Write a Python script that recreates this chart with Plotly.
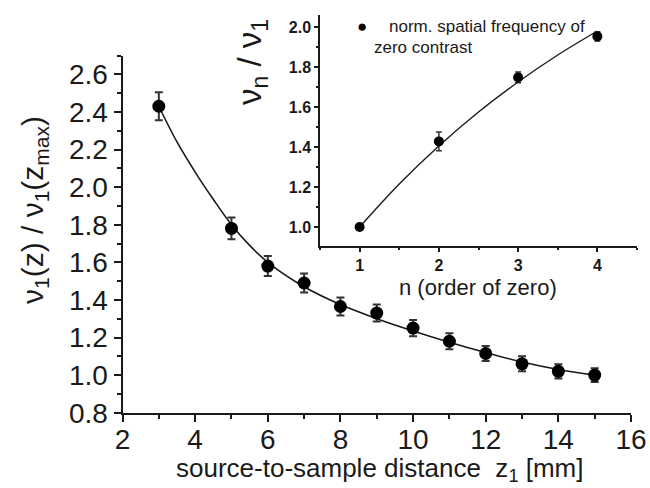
import plotly.graph_objects as go

# Main plot data
z_vals = [3, 5, 6, 7, 8, 9, 10, 11, 12, 13, 14, 15]
ratio_vals = [2.43, 1.78, 1.58, 1.49, 1.365, 1.33, 1.25, 1.18, 1.115, 1.06, 1.02, 1.00]
ratio_err = [0.075, 0.058, 0.053, 0.05, 0.048, 0.045, 0.043, 0.042, 0.04, 0.04, 0.038, 0.037]

# fitted curve
fit_z = [3, 3.5, 4, 4.5, 5, 5.5, 6, 7, 8, 9, 10, 11, 12, 13, 14, 15]
fit_y = [2.43, 2.24, 2.08, 1.935, 1.80, 1.69, 1.60, 1.47, 1.375, 1.30, 1.235, 1.175, 1.12, 1.07, 1.03, 1.00]

# Inset data
n_vals = [1, 2, 3, 4]
nu_vals = [1.0, 1.428, 1.748, 1.953]
nu_err = [0.012, 0.047, 0.027, 0.023]
fit_n = [1, 1.5, 2, 2.5, 3, 3.5, 4]
fit_nu = [1.0, 1.215, 1.405, 1.575, 1.725, 1.86, 1.98]

FONT = "Liberation Sans, Arial, sans-serif"
INK = "#1a1a1a"
W, H = 650, 488

fig = go.Figure()

fig.add_trace(go.Scatter(x=fit_z, y=fit_y, mode="lines", line=dict(color=INK, width=1.6, shape="spline"),
                         showlegend=False, xaxis="x", yaxis="y"))
fig.add_trace(go.Scatter(x=z_vals, y=ratio_vals, mode="markers",
                         marker=dict(color="black", size=13),
                         error_y=dict(type="data", array=ratio_err, color="#333", thickness=2, width=4),
                         showlegend=False, xaxis="x", yaxis="y"))

fig.add_trace(go.Scatter(x=fit_n, y=fit_nu, mode="lines", line=dict(color=INK, width=1.4, shape="spline"),
                         showlegend=False, xaxis="x2", yaxis="y2"))
fig.add_trace(go.Scatter(x=n_vals, y=nu_vals, mode="markers",
                         marker=dict(color="black", size=10),
                         error_y=dict(type="data", array=nu_err, color="#333", thickness=1.5, width=3),
                         showlegend=False, xaxis="x2", yaxis="y2"))

def px_x(p):
    return p / W

def px_y(p):
    return 1 - p / H

axis_common = dict(showline=True, linewidth=2, linecolor=INK, showgrid=False, zeroline=False,
                   ticks="outside", tickcolor=INK, mirror=False, automargin=False)
inset_common = dict(showline=True, linewidth=1.5, linecolor=INK, showgrid=False, zeroline=False,
                    ticks="outside", tickcolor=INK, mirror=False, automargin=False)

fig.update_layout(
    width=W, height=H,
    margin=dict(l=0, r=0, t=0, b=0, autoexpand=False),
    paper_bgcolor="white", plot_bgcolor="white",
    font=dict(family=FONT, color=INK),
    xaxis=dict(domain=[px_x(122.5), px_x(631)], range=[2, 16], tickvals=[2, 4, 6, 8, 10, 12, 14, 16],
               ticklen=7, tickwidth=2, tickfont=dict(size=28, family=FONT, color=INK),
               ticklabelstandoff=-6, ticklabeloverflow="allow",
               minor=dict(dtick=1, tick0=2, ticklen=4, tickwidth=2, tickcolor=INK, ticks="outside"),
               anchor="y", **axis_common),
    yaxis=dict(domain=[px_y(412.7), px_y(55.5)], range=[0.8, 2.7], tick0=0.8, dtick=0.2, tickformat=".1f",
               ticklen=7, tickwidth=2, tickfont=dict(size=28, family=FONT, color=INK),
               minor=dict(dtick=0.1, tick0=0.8, ticklen=4, tickwidth=2, tickcolor=INK, ticks="outside"),
               anchor="x", **axis_common),
    xaxis2=dict(domain=[px_x(320), px_x(637)], range=[0.5, 4.5], tickvals=[1, 2, 3, 4],
                ticklen=4, tickwidth=1.5, tickfont=dict(size=16, family=FONT, color=INK, weight="bold"),
                minor=dict(dtick=0.5, tick0=0.5, ticklen=2, tickwidth=1.5, tickcolor=INK, ticks="outside"),
                anchor="y2", **inset_common),
    yaxis2=dict(domain=[px_y(246), px_y(15)], range=[0.905, 2.06], tick0=1.0, dtick=0.2, tickformat=".1f",
                ticklen=4, tickwidth=1.5, tickfont=dict(size=16, family=FONT, color=INK, weight="bold"),
                minor=dict(dtick=0.1, tick0=1.0, ticklen=2, tickwidth=1.5, tickcolor=INK, ticks="outside"),
                anchor="x2", **inset_common),
)

ann = []
# main axis titles
ann.append(dict(text="source-to-sample distance  z<sub>1</sub> [mm]", x=px_x(380), y=px_y(469),
                xref="paper", yref="paper", showarrow=False, font=dict(size=26, family=FONT, color=INK),
                xanchor="center", yanchor="middle"))
ann.append(dict(text="ν<sub>1</sub>(z) / ν<sub>1</sub>(z<sub>max</sub>)", x=px_x(34), y=px_y(210),
                xref="paper", yref="paper", showarrow=False, textangle=-90,
                font=dict(size=30, family=FONT, color=INK), xanchor="center", yanchor="middle"))
# inset axis titles
ann.append(dict(text="n (order of zero)", x=px_x(478), y=px_y(287), xref="paper", yref="paper",
                showarrow=False, font=dict(size=22, family=FONT, color=INK), xanchor="center", yanchor="middle"))
ann.append(dict(text="ν<sub>n</sub> / ν<sub>1</sub>", x=px_x(252), y=px_y(62), xref="paper", yref="paper",
                showarrow=False, textangle=-90, font=dict(size=33, family=FONT, color=INK),
                xanchor="center", yanchor="middle"))
# inset legend
ann.append(dict(text="●", x=px_x(362), y=px_y(26), xref="paper", yref="paper", showarrow=False,
                font=dict(size=17, family=FONT, color="black"), xanchor="center", yanchor="middle"))
ann.append(dict(text="norm. spatial frequency of", x=px_x(387), y=px_y(26), xref="paper", yref="paper",
                showarrow=False, font=dict(size=17, family=FONT, color=INK), xanchor="left", yanchor="middle"))
ann.append(dict(text="zero contrast", x=px_x(372), y=px_y(47), xref="paper", yref="paper",
                showarrow=False, font=dict(size=17, family=FONT, color=INK), xanchor="left", yanchor="middle"))

fig.update_layout(annotations=ann)

fig.write_html("out.html", config={"displayModeBar": False},
               post_script="document.body.style.margin='0';document.body.style.overflow='hidden';")
